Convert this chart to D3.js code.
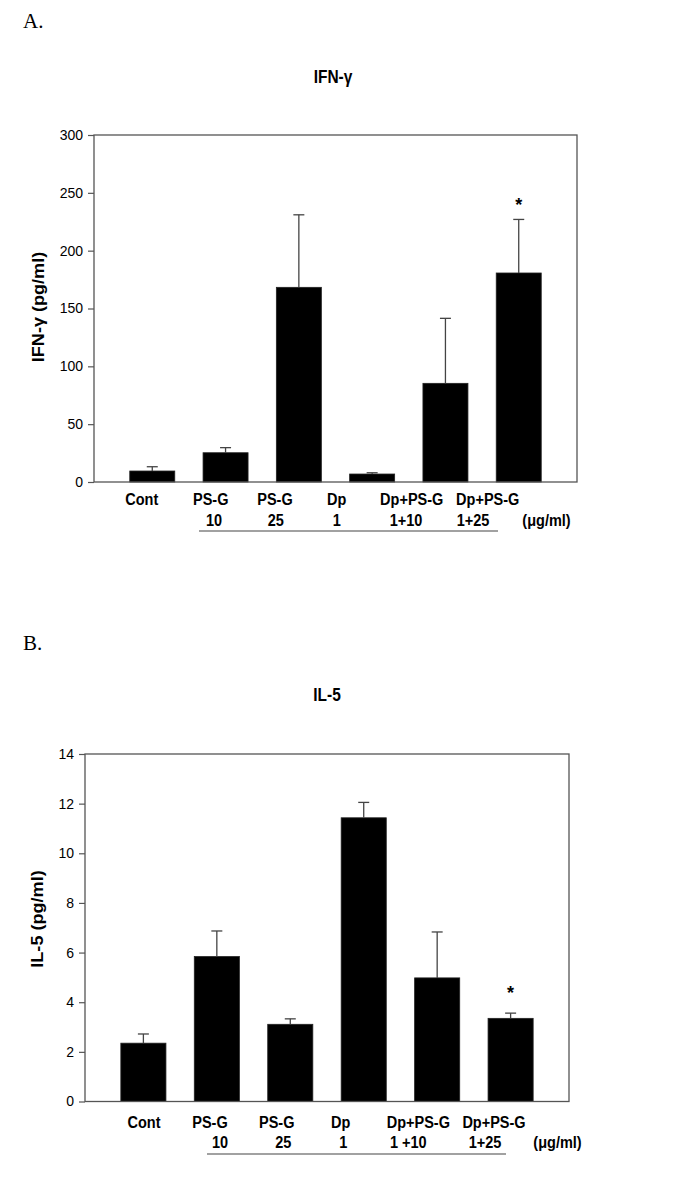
<!DOCTYPE html>
<html>
<head>
<meta charset="utf-8">
<script src="https://cdn.jsdelivr.net/npm/d3@7"></script>
<style>
  html, body { margin: 0; padding: 0; background: #fff; }
  svg { display: block; }
  text { font-family: Arial, "Liberation Sans", Helvetica, sans-serif; fill: #000; }
</style>
</head>
<body>
<script>
// ---------------- data ----------------
const categories = ["Cont", "PS-G", "PS-G", "Dp", "Dp+PS-G", "Dp+PS-G"];
const dosesA = ["", "10", "25", "1", "1+10", "1+25"];
const dosesB = ["", "10", "25", "1", "1 +10", "1+25"];
const ifnMean  = [9.5, 25.3, 168.3, 6.9, 85.3, 180.7];
const ifnUpper = [13.2, 29.7, 231, 8.0, 141.5, 227];
const il5Mean  = [2.35, 5.84, 3.11, 11.43, 4.98, 3.35];
const il5Upper = [2.72, 6.87, 3.33, 12.05, 6.83, 3.56];
const ifnTicks = [0, 50, 100, 150, 200, 250, 300];
const il5Ticks = [0, 2, 4, 6, 8, 10, 12, 14];
const ifnSig = [false, false, false, false, false, true];
const il5Sig = [false, false, false, false, false, true];

// ---------------- layout ----------------
const W = 685, H = 1189;
const svg = d3.select("body").append("svg").attr("width", W).attr("height", H);

const panels = [
  {
    letter: "A.", letterX: 23, letterY: 28,
    title: "IFN-γ", titleX: 333, titleY: 83,
    ylabel: "IFN-γ (pg/ml)", ylabelX: 44, ylabelY: 307,
    left: 94, right: 577, top: 135, bottom: 482,
    ymax: 300, ticks: ifnTicks, mean: ifnMean, upper: ifnUpper, sig: ifnSig, sigOffset: 8,
    doses: dosesA,
    line1X: [141.7, 210.7, 275, 336.7, 411.7, 487.7], line1Y: 505,
    line2X: [0, 214, 275.7, 336.7, 406, 473], line2Y: 526,
    ulineX: [199, 498], ulineY: 531,
    unitX: 546.5
  },
  {
    letter: "B.", letterX: 23, letterY: 650,
    title: "IL-5", titleX: 327, titleY: 701,
    ylabel: "IL-5 (pg/ml)", ylabelX: 43, ylabelY: 919,
    left: 85, right: 569, top: 754, bottom: 1101.5,
    ymax: 14, ticks: il5Ticks, mean: il5Mean, upper: il5Upper, sig: il5Sig, sigOffset: 14,
    doses: dosesB,
    line1X: [144, 210, 276.7, 340.7, 418.3, 494], line1Y: 1128,
    line2X: [0, 220, 283.3, 343.3, 408.3, 485], line2Y: 1148,
    ulineX: [207, 506], ulineY: 1154,
    unitX: 557.5
  }
];

const stretch = 1.13; // vertical stretch of the reference's lettering
const axisColor = "#555";

panels.forEach(p => {
  const g = svg.append("g");
  const idx = categories.map((c, i) => i);

  const x = d3.scaleBand().domain(idx).range([p.left, p.right])
    .paddingInner(0.386).paddingOuter(0.488);
  const y = d3.scaleLinear().domain([0, p.ymax]).range([p.bottom, p.top]);

  // panel letter
  g.append("text").attr("x", p.letterX).attr("y", p.letterY)
    .style("font-family", "'Liberation Serif', 'Times New Roman', serif")
    .style("font-size", "21px").text(p.letter);

  // title
  g.append("text")
    .attr("transform", `translate(${p.titleX},${p.titleY}) scale(1,${stretch})`)
    .attr("text-anchor", "middle").style("font-weight", "bold").style("font-size", "15.5px")
    .text(p.title);

  // y axis label
  g.append("text")
    .attr("transform", `translate(${p.ylabelX},${p.ylabelY}) rotate(-90) scale(${stretch},1)`)
    .attr("text-anchor", "middle").style("font-weight", "bold").style("font-size", "16px")
    .text(p.ylabel);

  // bars
  g.selectAll("rect.bar").data(p.mean).enter().append("rect")
    .attr("class", "bar")
    .attr("x", (d, i) => x(i)).attr("width", x.bandwidth())
    .attr("y", d => y(d)).attr("height", d => y(0) - y(d))
    .attr("fill", "#000").attr("stroke", "#222").attr("stroke-width", 0.8);

  // error bars (upper only)
  const capHalf = 5.5;
  const eb = g.selectAll("g.err").data(p.mean).enter().append("g").attr("class", "err");
  eb.append("line")
    .attr("x1", (d, i) => x(i) + x.bandwidth() / 2).attr("x2", (d, i) => x(i) + x.bandwidth() / 2)
    .attr("y1", d => y(d)).attr("y2", (d, i) => y(p.upper[i]))
    .attr("stroke", "#444").attr("stroke-width", 1.3);
  eb.append("line")
    .attr("x1", (d, i) => x(i) + x.bandwidth() / 2 - capHalf).attr("x2", (d, i) => x(i) + x.bandwidth() / 2 + capHalf)
    .attr("y1", (d, i) => y(p.upper[i])).attr("y2", (d, i) => y(p.upper[i]))
    .attr("stroke", "#444").attr("stroke-width", 1.3);

  // significance asterisks
  g.selectAll("text.sig").data(p.sig.map((s, i) => ({ s, i })).filter(d => d.s)).enter()
    .append("text").attr("class", "sig")
    .attr("x", d => x(d.i) + x.bandwidth() / 2)
    .attr("y", d => y(p.upper[d.i]) - p.sigOffset)
    .attr("text-anchor", "middle").style("font-weight", "bold").style("font-size", "18px")
    .text("*");

  // frame
  g.append("rect").attr("x", p.left).attr("y", p.top)
    .attr("width", p.right - p.left).attr("height", p.bottom - p.top)
    .attr("fill", "none").attr("stroke", axisColor).attr("stroke-width", 1.3);

  // y axis
  const ax = g.append("g").attr("transform", `translate(${p.left},0)`)
    .call(d3.axisLeft(y).tickValues(p.ticks).tickSize(6).tickPadding(5).tickFormat(d3.format("d")));
  ax.select(".domain").remove();
  ax.selectAll(".tick line").attr("stroke", axisColor).attr("stroke-width", 1.2);
  ax.selectAll(".tick text").style("font-size", "14px")
    .style("font-family", "Arial, 'Liberation Sans', sans-serif").attr("fill", "#111");

  // category labels
  categories.forEach((c, i) => {
    g.append("text")
      .attr("transform", `translate(${p.line1X[i]},${p.line1Y}) scale(1,${stretch})`)
      .attr("text-anchor", "middle").style("font-weight", "bold").style("font-size", "14.5px")
      .text(c);
    if (p.doses[i]) {
      g.append("text")
        .attr("transform", `translate(${p.line2X[i]},${p.line2Y}) scale(1,${stretch})`)
        .attr("text-anchor", "middle").style("font-weight", "bold").style("font-size", "14.5px")
        .text(p.doses[i]);
    }
  });
  g.append("text")
    .attr("transform", `translate(${p.unitX},${p.line2Y}) scale(1,${stretch})`)
    .attr("text-anchor", "middle").style("font-weight", "bold").style("font-size", "14.5px")
    .text("(μg/ml)");
  g.append("line")
    .attr("x1", p.ulineX[0]).attr("x2", p.ulineX[1])
    .attr("y1", p.ulineY).attr("y2", p.ulineY)
    .attr("stroke", "#444").attr("stroke-width", 1.2);
});
</script>
</body>
</html>
